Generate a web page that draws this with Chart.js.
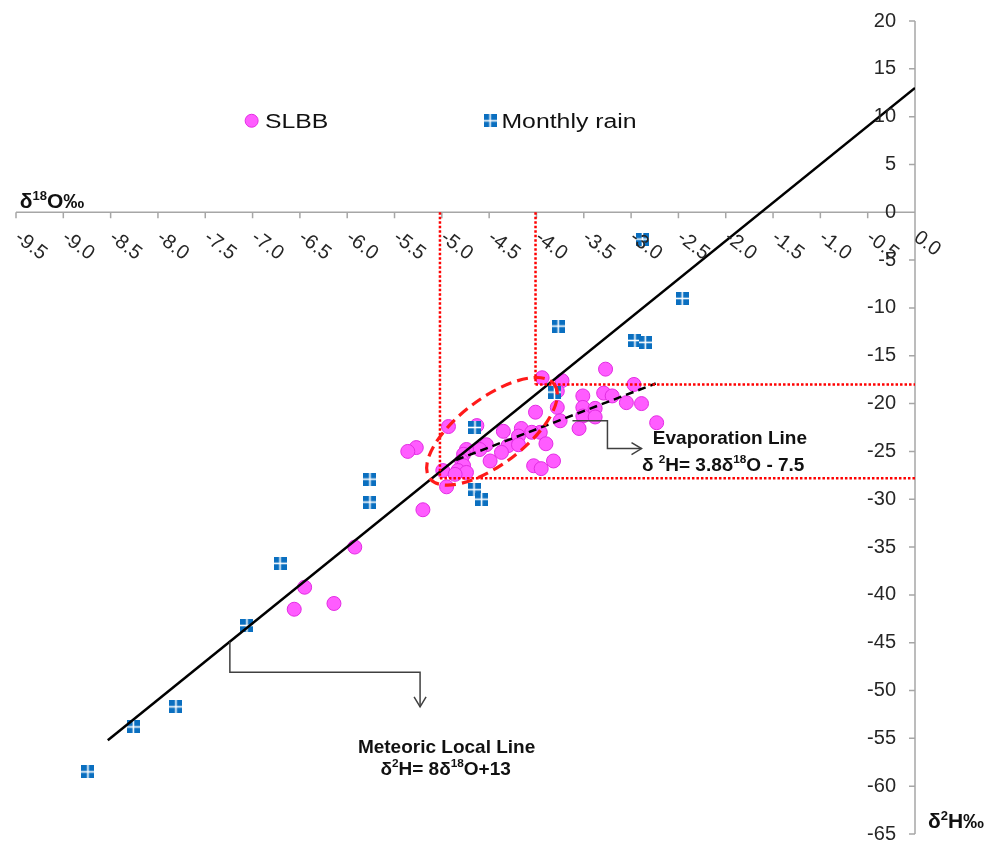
<!DOCTYPE html>
<html>
<head>
<meta charset="utf-8">
<title>Isotopes</title>
<script src="https://cdn.jsdelivr.net/npm/chart.js@4.4.0/dist/chart.umd.min.js"></script>
<style>
  html, body { margin: 0; padding: 0; background: #fff; }
  #wrap { width: 1002px; height: 850px; position: relative; }
</style>
</head>
<body>
<div id="wrap"><canvas id="isoChart"></canvas></div>
<script>
// SLBB samples: d18O / d2H
const slbbO = [-3.27, -3.94, -3.73, -2.97, -3.78, -3.51, -3.29, -3.20, -3.05, -2.89,
               -4.01, -3.78, -3.51, -3.38, -3.51, -3.38, -3.75, -2.73, -3.55, -3.96,
               -4.93, -4.63, -4.35, -4.16, -4.05, -4.19, -5.27, -5.36, -4.53, -4.60,
               -4.30, -4.19, -3.90, -4.74, -4.77, -4.37, -4.49, -4.79, -3.82, -4.03,
               -3.95, -4.77, -4.83, -4.74, -4.99, -4.86, -4.95, -5.20, -5.92, -6.45,
               -6.56, -6.14];
const slbbH = [-16.4, -17.3, -17.6, -18.0, -18.7, -19.2, -18.9, -19.2, -19.9, -20.0,
               -20.9, -20.4, -20.4, -20.5, -21.3, -21.4, -21.8, -22.0, -22.6, -23.0,
               -22.4, -22.3, -22.9, -22.6, -23.0, -23.4, -24.6, -25.0, -24.3, -24.8,
               -24.4, -24.3, -24.2, -24.8, -25.3, -25.1, -26.0, -26.0, -26.0, -26.5,
               -26.8, -26.5, -27.0, -27.2, -27.0, -27.4, -28.7, -31.1, -35.0, -39.2,
               -41.5, -40.9];

// monthly rain
const rainO = [-2.88, -2.46, -3.77, -2.96, -2.85, -3.81, -4.65, -4.66, -4.58, -5.76,
               -5.76, -6.71, -7.06, -7.81, -8.26, -8.74];
const rainH = [-2.8, -9.0, -11.9, -13.4, -13.6, -18.8, -22.5, -29.0, -30.0, -27.9,
               -30.3, -36.7, -43.2, -51.7, -53.8, -58.5];

// line end points
const mllO = [-8.53, 0];
const mllH = [-55.2, 13];
const evapO = [-4.85, -2.74];
const evapH = [-25.9, -17.9];

const xTicks = [-9.5, -9.0, -8.5, -8.0, -7.5, -7.0, -6.5, -6.0, -5.5, -5.0,
                -4.5, -4.0, -3.5, -3.0, -2.5, -2.0, -1.5, -1.0, -0.5, 0.0];
const xTickLabels = ['-9.5', '-9.0', '-8.5', '-8.0', '-7.5', '-7.0', '-6.5', '-6.0', '-5.5', '-5.0',
                     '-4.5', '-4.0', '-3.5', '-3.0', '-2.5', '-2.0', '-1.5', '-1.0', '-0.5', '0.0'];
const yTicks = [20, 15, 10, 5, 0, -5, -10, -15, -20, -25, -30, -35, -40, -45, -50, -55, -60, -65];

const FONT = '"Liberation Sans", Arial, sans-serif';
const RAIN_BLUE = '#0a6fc0';
const SLBB_FILL = 'rgb(255,92,255)';
const SLBB_EDGE = 'rgb(226,44,226)';

function toPts(xs, ys) {
  return xs.map(function (v, i) { return { x: v, y: ys[i] }; });
}

// little blue square split in 4
function rainMarker(size) {
  const c = document.createElement('canvas');
  c.width = size; c.height = size;
  const g = c.getContext('2d');
  g.fillStyle = RAIN_BLUE;
  g.fillRect(0, 0, size, size);
  g.fillStyle = '#ffffff';
  const m = size / 2;
  g.fillRect(m - 0.8, 0, 1.6, size);
  g.fillRect(0, m - 0.8, size, 1.6);
  return c;
}
const rainImg = rainMarker(13);

// text with superscript parts: [[text, isSup], ...]
function richText(ctx, parts, x, y, size, weight, align) {
  const f = function (s) { return weight + ' ' + s + 'px ' + FONT; };
  let w = 0;
  parts.forEach(function (p) {
    ctx.font = f(p[1] ? size * 0.62 : size);
    w += ctx.measureText(p[0]).width;
  });
  let cx = align === 'center' ? x - w / 2 : x;
  ctx.textAlign = 'left';
  ctx.textBaseline = 'alphabetic';
  parts.forEach(function (p) {
    ctx.font = f(p[1] ? size * 0.62 : size);
    ctx.fillText(p[0], cx, p[1] ? y - size * 0.38 : y);
    cx += ctx.measureText(p[0]).width;
  });
}

function polyline(ctx, x, y, pts) {
  ctx.beginPath();
  pts.forEach(function (p, i) {
    const px = x.getPixelForValue(p[0]), py = y.getPixelForValue(p[1]);
    if (i === 0) ctx.moveTo(px, py); else ctx.lineTo(px, py);
  });
  ctx.stroke();
}

function arrowHead(ctx, tx, ty, dir) {
  ctx.beginPath();
  if (dir === 'down') {
    ctx.moveTo(tx - 6, ty - 10); ctx.lineTo(tx, ty); ctx.lineTo(tx + 6, ty - 10);
  } else {
    ctx.moveTo(tx - 10, ty - 6); ctx.lineTo(tx, ty); ctx.lineTo(tx - 10, ty + 6);
  }
  ctx.stroke();
}

const isoAxes = {
  id: 'isoAxes',
  beforeDatasetsDraw(chart) {
    const ctx = chart.ctx, x = chart.scales.x, y = chart.scales.y;
    const ax = x.getPixelForValue(0), ay = y.getPixelForValue(0);
    ctx.save();
    ctx.strokeStyle = '#a6a6a6';
    ctx.lineWidth = 1.5;
    ctx.beginPath();
    ctx.moveTo(x.left, ay); ctx.lineTo(x.right, ay);
    xTicks.forEach(function (v) {
      const p = x.getPixelForValue(v);
      ctx.moveTo(p, ay); ctx.lineTo(p, ay + 6);
    });
    ctx.moveTo(ax, y.top); ctx.lineTo(ax, y.bottom);
    yTicks.forEach(function (v) {
      const p = y.getPixelForValue(v);
      ctx.moveTo(ax - 6, p); ctx.lineTo(ax, p);
    });
    ctx.stroke();
    ctx.restore();
  },
  afterDatasetsDraw(chart) {
    const ctx = chart.ctx, x = chart.scales.x, y = chart.scales.y;
    const ax = x.getPixelForValue(0), ay = y.getPixelForValue(0);
    ctx.save();

    // tick labels
    ctx.fillStyle = '#262626';
    ctx.font = '20px ' + FONT;
    ctx.textAlign = 'right';
    ctx.textBaseline = 'middle';
    yTicks.forEach(function (v) {
      ctx.fillText(String(v), ax - 19, y.getPixelForValue(v));
    });
    ctx.textAlign = 'left';
    xTicks.forEach(function (v, i) {
      ctx.save();
      ctx.translate(x.getPixelForValue(v) + 1, ay + 23);
      ctx.rotate(37 * Math.PI / 180);
      ctx.fillText(xTickLabels[i], 0, 0);
      ctx.restore();
    });

    // axis titles
    ctx.fillStyle = '#111';
    richText(ctx, [['δ', 0], ['18', 1], ['O‰', 0]], x.getPixelForValue(-9.46), y.getPixelForValue(0.42), 21, 'bold', 'left');
    richText(ctx, [['δ', 0], ['2', 1], ['H‰', 0]], x.getPixelForValue(0.137), y.getPixelForValue(-64.4), 21, 'bold', 'left');

    // red dotted guides
    ctx.strokeStyle = '#ff0000';
    ctx.lineWidth = 2.5;
    ctx.setLineDash([2.5, 2]);
    polyline(ctx, x, y, [[-5.02, 0], [-5.02, -27.8]]);
    polyline(ctx, x, y, [[-4.01, 0], [-4.01, -18.0]]);
    polyline(ctx, x, y, [[-4.01, -18.0], [0, -18.0]]);
    polyline(ctx, x, y, [[-5.02, -27.8], [0, -27.8]]);

    // red dashed ellipse around the cluster
    ctx.setLineDash([11, 6]);
    ctx.lineWidth = 3.2;
    ctx.strokeStyle = '#ff1a1a';
    ctx.beginPath();
    ctx.ellipse(x.getPixelForValue(-4.47), y.getPixelForValue(-22.9), 78, 33, -37 * Math.PI / 180, 0, Math.PI * 2);
    ctx.stroke();
    ctx.setLineDash([]);

    // connectors
    ctx.strokeStyle = '#404040';
    ctx.lineWidth = 1.5;
    polyline(ctx, x, y, [[-7.24, -44.9], [-7.24, -48.1], [-5.23, -48.1], [-5.23, -51.7]]);
    arrowHead(ctx, x.getPixelForValue(-5.23), y.getPixelForValue(-51.7), 'down');
    polyline(ctx, x, y, [[-3.62, -21.8], [-3.25, -21.8], [-3.25, -24.7], [-2.89, -24.7]]);
    arrowHead(ctx, x.getPixelForValue(-2.89), y.getPixelForValue(-24.7), 'right');

    // line captions
    ctx.fillStyle = '#111';
    richText(ctx, [['Evaporation Line', 0]], x.getPixelForValue(-2.77), y.getPixelForValue(-24.27), 19, 'bold', 'left');
    richText(ctx, [['δ ', 0], ['2', 1], ['H= 3.8δ', 0], ['18', 1], ['O - 7.5', 0]], x.getPixelForValue(-2.886), y.getPixelForValue(-27.0), 19, 'bold', 'left');
    richText(ctx, [['Meteoric Local Line', 0]], x.getPixelForValue(-4.95), y.getPixelForValue(-56.5), 19, 'bold', 'center');
    richText(ctx, [['δ', 0], ['2', 1], ['H= 8δ', 0], ['18', 1], ['O+13', 0]], x.getPixelForValue(-4.96), y.getPixelForValue(-58.8), 19, 'bold', 'center');

    // legend inside the plot
    const lx1 = x.getPixelForValue(-7.01), ly = y.getPixelForValue(9.57);
    ctx.fillStyle = SLBB_FILL;
    ctx.strokeStyle = SLBB_EDGE;
    ctx.lineWidth = 1;
    ctx.beginPath();
    ctx.arc(lx1, ly, 6.5, 0, Math.PI * 2);
    ctx.fill(); ctx.stroke();
    const lx2 = x.getPixelForValue(-4.49);
    ctx.drawImage(rainImg, lx2 - 6.5, ly - 6.5);
    ctx.fillStyle = '#111';
    ctx.font = '20px ' + FONT;
    ctx.textAlign = 'left';
    ctx.textBaseline = 'alphabetic';
    [['SLBB', -6.87], ['Monthly rain', -4.37]].forEach(function (it) {
      ctx.save();
      ctx.translate(x.getPixelForValue(it[1]), y.getPixelForValue(8.79));
      ctx.scale(1.24, 1);
      ctx.fillText(it[0], 0, 0);
      ctx.restore();
    });

    ctx.restore();
  }
};

new Chart(document.getElementById('isoChart'), {
  type: 'scatter',
  data: {
    datasets: [
      {
        label: 'Meteoric Local Line',
        type: 'line',
        data: toPts(mllO, mllH),
        borderColor: '#000',
        borderWidth: 2.5,
        pointRadius: 0,
        fill: false,
        order: 0
      },
      {
        label: 'Evaporation Line',
        type: 'line',
        data: toPts(evapO, evapH),
        borderColor: '#000',
        borderWidth: 2.5,
        borderDash: [8, 5],
        pointRadius: 0,
        fill: false,
        order: 0
      },
      {
        label: 'Monthly rain',
        data: toPts(rainO, rainH),
        pointStyle: rainImg,
        pointRadius: 6,
        order: 1
      },
      {
        label: 'SLBB',
        data: toPts(slbbO, slbbH),
        pointStyle: 'circle',
        pointRadius: 7,
        backgroundColor: SLBB_FILL,
        borderColor: SLBB_EDGE,
        borderWidth: 1,
        order: 2
      }
    ]
  },
  options: {
    responsive: true,
    maintainAspectRatio: false,
    animation: false,
    events: [],
    layout: { padding: { left: 16, right: 87, top: 21, bottom: 16 } },
    scales: {
      x: { type: 'linear', min: -9.5, max: 0, display: false },
      y: { type: 'linear', min: -65, max: 20, display: false }
    },
    plugins: {
      legend: { display: false },
      tooltip: { enabled: false }
    }
  },
  plugins: [isoAxes]
});
</script>
</body>
</html>
